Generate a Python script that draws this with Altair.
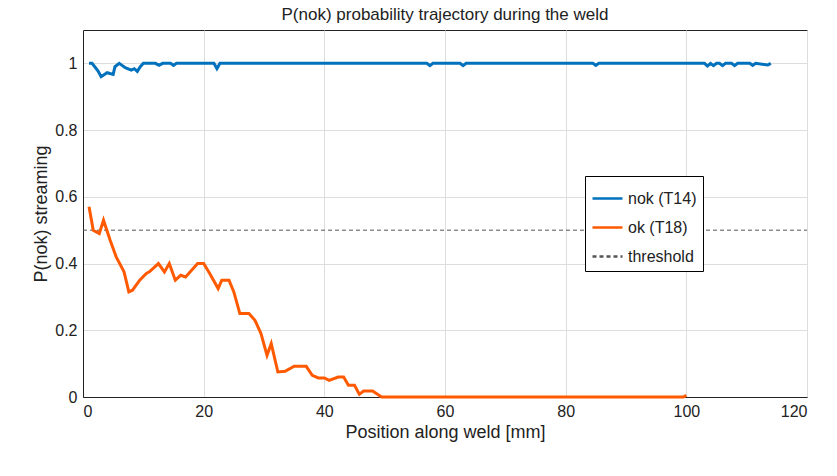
import altair as alt
import pandas as pd

# ok (T18) trajectory
ok_x = [1, 1.7, 2.7, 3.4, 4.5, 5.5, 6.8, 7.6, 8.2, 9.4, 10.5, 11, 12.5, 13.5, 14.3, 15.3, 16.2, 17, 18, 19,
        20, 21, 22.4, 23, 24.2, 25, 26, 27.5, 28.5, 29.5, 30.5, 31.2, 32.3, 33.5, 35, 37, 38, 39, 40, 40.8,
        42.3, 43.2, 44, 45, 45.8, 46.5, 48, 49.5, 60, 80, 99.5, 100]
ok_y = [0.57, 0.50, 0.49, 0.53, 0.47, 0.42, 0.375, 0.315, 0.32, 0.35, 0.37, 0.375, 0.40, 0.375, 0.40, 0.35, 0.365, 0.36, 0.38, 0.40,
        0.40, 0.37, 0.325, 0.35, 0.35, 0.315, 0.25, 0.25, 0.23, 0.19, 0.125, 0.16, 0.075, 0.077, 0.092, 0.092, 0.065, 0.057, 0.057, 0.05,
        0.06, 0.06, 0.035, 0.035, 0.008, 0.018, 0.018, 0.0, 0.0, 0.0, 0.0, 0.005]

# nok (T14) trajectory
nok_x = [1, 1.5, 2.5, 3, 4, 5, 5.3, 6, 7, 8, 8.5, 9, 9.5, 10, 12, 12.6, 13.2, 14.5, 15, 15.5, 21.7, 22.2, 22.7,
         57, 57.5, 58, 62.5, 63, 63.5, 84.5, 85, 85.5, 103, 103.5, 104, 104.5, 105, 105.5, 106, 106.5,
         107.5, 108, 108.5, 110.5, 111, 111.5, 113.5, 114]
nok_y = [1.0, 1.0, 0.977, 0.96, 0.972, 0.967, 0.99, 1.0, 0.987, 0.98, 0.984, 0.976, 0.99, 1.0, 1.0, 0.994, 1.0, 1.0, 0.994, 1.0, 1.0, 0.984, 1.0,
         1.0, 0.993, 1.0, 1.0, 0.993, 1.0, 1.0, 0.994, 1.0, 1.0, 0.992, 1.0, 0.993, 1.0, 1.0, 0.993, 1.0,
         1.0, 0.993, 1.0, 1.0, 0.994, 1.0, 0.995, 1.0]

thr_x = [0, 120]
thr_y = [0.5, 0.5]

names = ['nok (T14)', 'ok (T18)', 'threshold']
df = pd.concat([
    pd.DataFrame({'x': nok_x, 'y': nok_y, 'serie': names[0], 'o': range(len(nok_x))}),
    pd.DataFrame({'x': ok_x, 'y': ok_y, 'serie': names[1], 'o': range(len(ok_x))}),
])
df_thr = pd.DataFrame({'x': thr_x, 'y': thr_y, 'serie': names[2], 'o': range(len(thr_x))})

font = 'Liberation Sans'

color = alt.Color('serie:N', title=None,
                  scale=alt.Scale(domain=names, range=['#0072BD', '#FF5A00', '#555555']),
                  legend=alt.Legend(orient='none', legendX=502, legendY=146, symbolType='stroke',
                                    symbolSize=900, symbolStrokeWidth=2.5, labelFontSize=16, labelFont=font,
                                    strokeColor='black', fillColor='white', padding=6, rowPadding=4,
                                    labelColor='#222222',
                                    symbolDash=alt.ExprRef("datum.value == 'threshold' ? [4, 3] : [1, 0]")))

x = alt.X('x:Q', title='Position along weld [mm]',
          scale=alt.Scale(domain=[0, 120], nice=False),
          axis=alt.Axis(values=[0, 20, 40, 60, 80, 100, 120]))
y = alt.Y('y:Q', title='P(nok) streaming',
          scale=alt.Scale(domain=[0, 1.1], nice=False),
          axis=alt.Axis(values=[0, 0.2, 0.4, 0.6, 0.8, 1],
                        labelExpr="datum.value == 0 ? '0' : datum.value == 1 ? '1' : format(datum.value, '.1f')"))

lines = alt.Chart(df).mark_line(strokeWidth=3).encode(x=x, y=y, color=color, detail='serie:N', order='o:Q')
thr = alt.Chart(df_thr).mark_line(strokeWidth=1, strokeDash=[4, 3]).encode(x=x, y=y, color=color)

chart = (thr + lines).properties(
    width=724, height=367,
    title=alt.Title('P(nok) probability trajectory during the weld', fontSize=17, font=font,
                    fontWeight='normal', color='#222222', offset=6),
    padding={'left': 75, 'top': 22, 'right': 20, 'bottom': 60},
    autosize=alt.AutoSizeParams(type='none'),
).configure_view(
    stroke='#222222', strokeWidth=1
).configure_axis(
    grid=True, gridColor='#dddddd', domainColor='#222222', tickColor='#222222',
    labelFont=font, titleFont=font, labelFontSize=16, titleFontSize=18,
    titleFontWeight='normal', labelColor='#222222', titleColor='#222222',
    ticks=False, labelPadding=6, domain=True
)

chart.save("out.html", embed_options={"renderer": "svg", "actions": False})
